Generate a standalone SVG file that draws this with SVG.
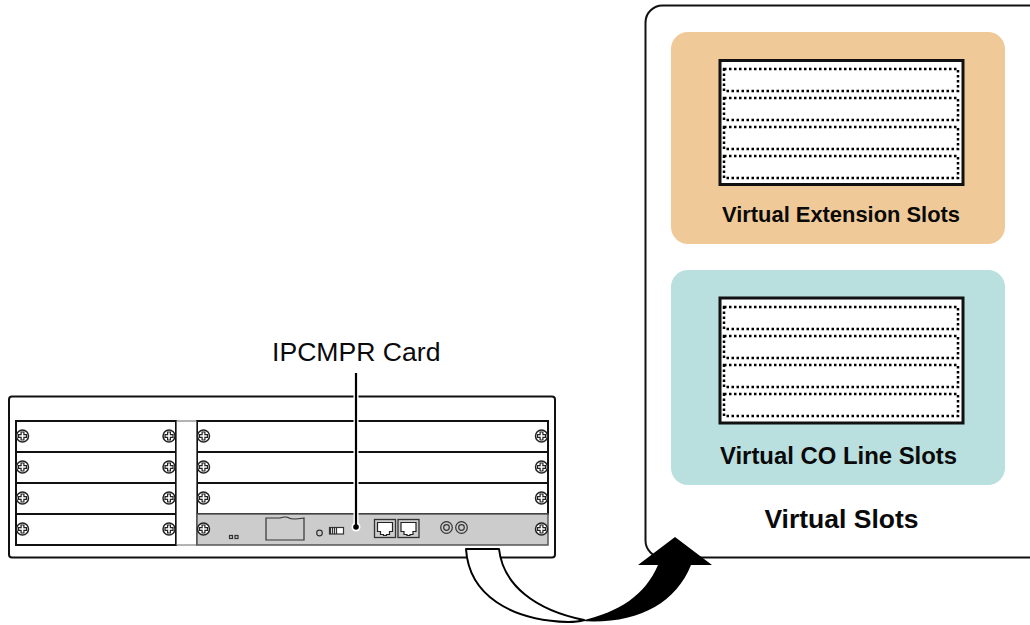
<svg xmlns="http://www.w3.org/2000/svg" width="1030" height="625" viewBox="0 0 1030 625">
<style>
text{font-family:"Liberation Sans",Arial,sans-serif;fill:#0a0a0a}
.b{font-weight:bold;text-anchor:middle}
.s{fill:#fff;stroke:#111;stroke-width:2}
.d{fill:#fff;stroke:#000;stroke-width:2.500;stroke-dasharray:2.500 2.500}
.f{fill:#fff;stroke:#111;stroke-width:3}
.g{fill:none;stroke:#333;stroke-width:1.2}
</style>
<defs>
<g id="screw"><circle r="6" fill="#fff" stroke="#222" stroke-width="1.500"/><path d="M-1.400-4h2.800v2.600h2.600v2.800h-2.600v2.600h-2.800v-2.600h-2.600v-2.800h2.600z" fill="#fff" stroke="#222" stroke-width="1.200"/></g>
<g id="rj"><rect x="0" y="0" width="21" height="18" fill="#ccc" stroke="#333" stroke-width="1.300"/><path d="M3 3h15v9h-3v3h-3v1h-3v-1h-3v-3h-3z" fill="#fff" stroke="#222" stroke-width="1.200"/></g>
<g id="rows"><rect class="d" x="724" y="0" width="234" height="22"/><rect class="d" x="724" y="29" width="234" height="22"/><rect class="d" x="724" y="58" width="234" height="22"/><rect class="d" x="724" y="87" width="234" height="22"/></g>
</defs>

<g id="virtual-slots">
<rect x="645.500" y="5.500" width="400" height="552" rx="17" fill="#fff" stroke="#111" stroke-width="2"/>
<text class="b" x="841.500" y="528" font-size="26.500">Virtual Slots</text>
</g>
<g id="virtual-extension-slots">
<rect x="671" y="32" width="334" height="212" rx="17" fill="#f0c998"/>
<rect class="f" x="720" y="60.500" width="243" height="124"/>
<use href="#rows" y="69"/>
<text class="b" x="841" y="222" font-size="22.500" textLength="238" lengthAdjust="spacingAndGlyphs">Virtual Extension Slots</text>
</g>
<g id="virtual-co-line-slots">
<rect x="671" y="270" width="334" height="215" rx="17" fill="#b9dfdf"/>
<rect class="f" x="720" y="298" width="243" height="125"/>
<use href="#rows" y="307"/>
<text class="b" x="838.500" y="464" font-size="23" textLength="237" lengthAdjust="spacingAndGlyphs">Virtual CO Line Slots</text>
</g>

<g id="chassis">
<rect x="9" y="396.500" width="546" height="161" rx="3" fill="#fff" stroke="#111" stroke-width="2"/>
<rect class="s" x="16" y="421" width="160" height="31"/>
<rect class="s" x="16" y="452" width="160" height="31"/>
<rect class="s" x="16" y="483" width="160" height="31"/>
<rect class="s" x="16" y="514" width="160" height="31"/>
<rect class="s" x="197" y="421" width="351" height="31"/>
<rect class="s" x="197" y="452" width="351" height="31"/>
<rect class="s" x="197" y="483" width="351" height="31"/>
<rect x="176.500" y="421" width="20" height="124" fill="#fff" stroke="#666" stroke-width="1"/>
<use href="#screw" x="22.500" y="436"/><use href="#screw" x="169" y="436"/><use href="#screw" x="203.500" y="436"/><use href="#screw" x="541.500" y="436"/>
<use href="#screw" x="22.500" y="467"/><use href="#screw" x="169" y="467"/><use href="#screw" x="203.500" y="467"/><use href="#screw" x="541.500" y="467"/>
<use href="#screw" x="22.500" y="498"/><use href="#screw" x="169" y="498"/><use href="#screw" x="203.500" y="498"/><use href="#screw" x="541.500" y="498"/>
<use href="#screw" x="22.500" y="529"/><use href="#screw" x="169" y="529"/>
</g>
<g id="ipcmpr-card">
<rect x="197" y="514" width="351" height="31" fill="#ccc" stroke="#555" stroke-width="1.500"/>
<use href="#screw" x="203.500" y="529"/><use href="#screw" x="541.500" y="529"/>
<rect class="g" x="229.500" y="535.500" width="3" height="3"/><rect class="g" x="235" y="535.500" width="3" height="3"/>
<path d="M266 518h14q6-2 9 0t15 0v22h-38z" fill="#ccc" stroke="#333" stroke-width="1.200"/>
<circle class="g" cx="319.500" cy="533" r="2.800"/>
<rect x="329.500" y="527.500" width="14" height="6.500" fill="#fff" stroke="#333" stroke-width="1.200"/><path d="M330.500 527.500v6.500M332.500 527.500v6.500M334.500 527.500v6.500M336.500 527.500v6.500" stroke="#333" stroke-width="1.200"/>
<use href="#rj" x="374.500" y="519.500"/><use href="#rj" x="398" y="519.500"/>
<circle class="g" cx="446.500" cy="527.500" r="5.800"/><circle class="g" cx="446.500" cy="527.500" r="2.800"/>
<circle class="g" cx="461.500" cy="527.500" r="5.800"/><circle class="g" cx="461.500" cy="527.500" r="2.800"/>
</g>
<g id="connectors">
<path d="M356 373V527" fill="none" stroke="#fff" stroke-width="5"/>
<circle cx="356" cy="527" r="4.500" fill="#fff"/>
<path d="M356 373V527" fill="none" stroke="#000" stroke-width="2.200"/>
<circle cx="356" cy="527" r="2.800" fill="#000"/>
<path d="M466 549H499C503 585 535 610 584 620C578 622 572 622 568 622C510 620 469 595 466 549Z" fill="#fff" stroke="#000" stroke-width="2" stroke-linejoin="round"/>
<path d="M580 621C620 612 645 595 658 565H638L675 537L712 565H691C675 605 635 625 580 621Z" fill="#000"/>
</g>
<g id="label"><text x="272" y="361" font-size="26.600">IPCMPR Card</text></g>
</svg>
